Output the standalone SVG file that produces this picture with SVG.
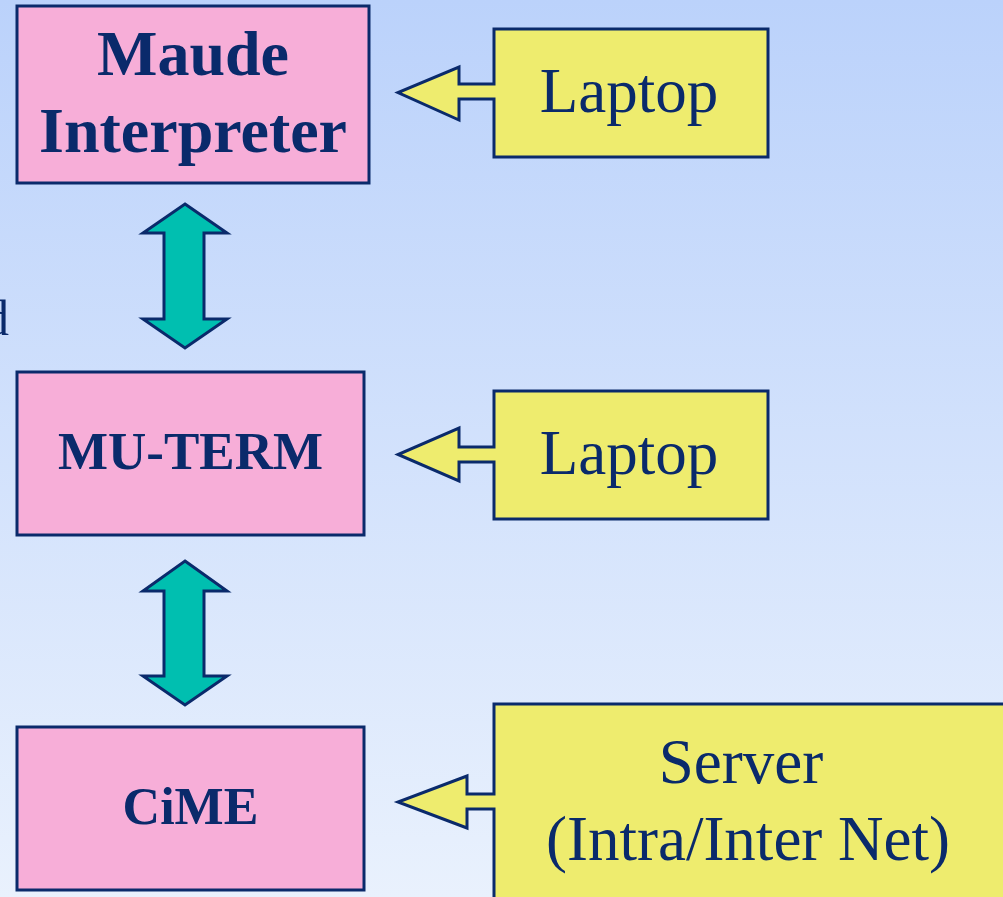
<svg xmlns="http://www.w3.org/2000/svg" width="1003" height="897" viewBox="0 0 1003 897">
  <defs>
    <linearGradient id="bg" x1="0" y1="0" x2="0" y2="1">
      <stop offset="0" stop-color="#bbd2fb"/>
      <stop offset="1" stop-color="#e9f1fd"/>
    </linearGradient>
    <style>
      .pink { fill: #f7aed8; stroke: #0a2a6b; stroke-width: 3; }
      .yellow { fill: #eeec6e; stroke: #0a2a6b; stroke-width: 3; stroke-linejoin: miter; }
      .dbl { fill: #00bfb0; stroke: #0a2a6b; stroke-width: 3; stroke-linejoin: miter; }
      .tb { font-family: "Liberation Serif", "Times New Roman", serif; font-weight: bold; fill: #0a2a6b; text-anchor: middle; }
      .tr { font-family: "Liberation Serif", "Times New Roman", serif; fill: #0a2a6b; text-anchor: middle; }
    </style>
  </defs>
  <rect x="0" y="0" width="1003" height="897" fill="url(#bg)"/>

  <text x="9" y="335" class="tr" style="text-anchor:end" font-size="50">d</text>

  <g id="maude">
    <rect class="pink" x="17" y="6" width="352" height="177"/>
    <text class="tb" x="193" y="75" font-size="64">Maude</text>
    <text class="tb" x="193" y="152" font-size="64">Interpreter</text>
  </g>

  <g id="muterm">
    <rect class="pink" x="17" y="372" width="347" height="163"/>
    <text class="tb" x="190.5" y="469" font-size="53">MU-TERM</text>
  </g>

  <g id="cime">
    <rect class="pink" x="17" y="727" width="347" height="163"/>
    <text class="tb" x="190.5" y="824" font-size="52">CiME</text>
  </g>

  <g id="laptop1">
    <path class="yellow" d="M494,29 H768 V157 H494 V99 H459 V120 L398,92.5 L459,67 V84 H494 Z"/>
    <text class="tr" x="629" y="112" font-size="63">Laptop</text>
  </g>

  <g id="laptop2">
    <path class="yellow" d="M494,391 H768 V519 H494 V462 H459 V481 L398,454.5 L459,428 V447 H494 Z"/>
    <text class="tr" x="629" y="474" font-size="63">Laptop</text>
  </g>

  <g id="server">
    <path class="yellow" d="M494,704 H1010 V910 H494 V809 H467 V828 L398,802 L467,776 V794 H494 Z"/>
    <text class="tr" x="741" y="783" font-size="63">Server</text>
    <text class="tr" x="748" y="860" font-size="63">(Intra/Inter Net)</text>
  </g>

  <g id="connectors">
    <polygon class="dbl" points="185,204 227,233 204,233 204,319 227,319 185,348 143,319 164,319 164,233 143,233"/>
    <polygon class="dbl" points="185,561 227,591 204,591 204,676 227,676 185,705 143,676 164,676 164,591 143,591"/>
  </g>
</svg>
